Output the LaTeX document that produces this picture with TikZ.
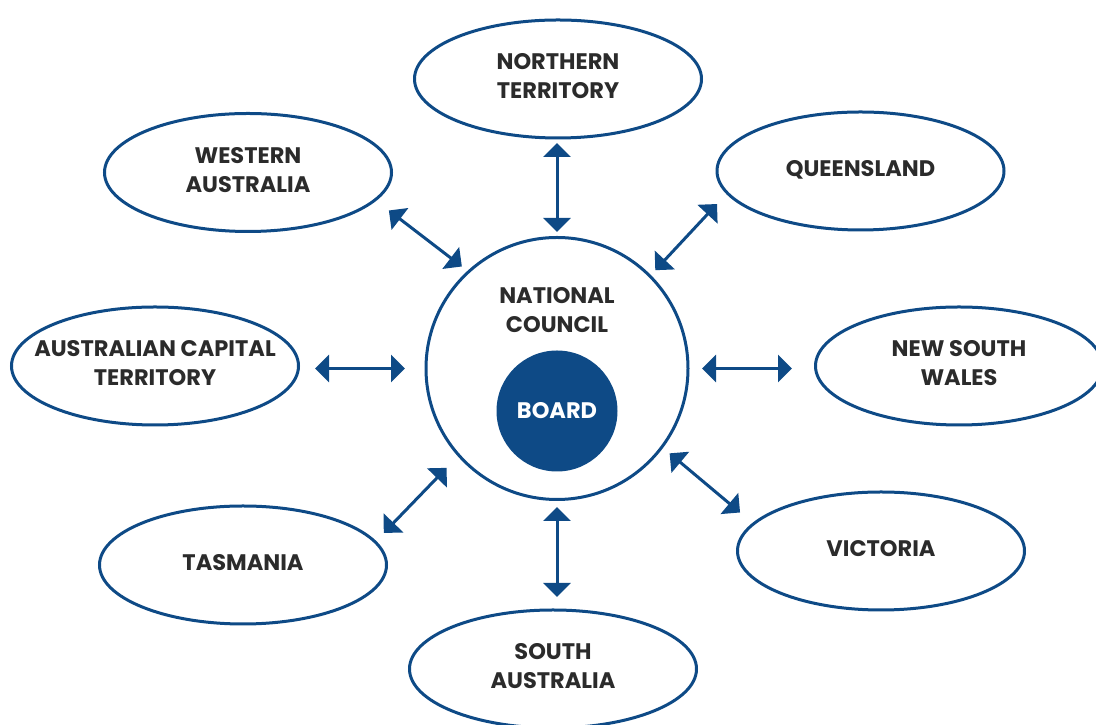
\documentclass[tikz,border=0pt]{standalone}
\usepackage{fontspec}
\setmainfont{Poppins}
\usetikzlibrary{arrows.meta, shapes.geometric, positioning}

\definecolor{ozblue}{RGB}{14,74,134}
\definecolor{ozgrey}{RGB}{43,43,43}
\newcommand\regionfont{\fontsize{22.5}{29}\selectfont\bfseries}

\tikzset{
    region/.style={ellipse, draw=ozblue, line width=3pt, minimum width=287pt, minimum height=118pt,
        inner xsep=-30pt, inner ysep=0pt, text depth=6pt, align=center, font=\regionfont, text=ozgrey},
    link/.style={{Triangle[length=14pt,width=27pt]}-{Triangle[length=14pt,width=27pt]}, line width=3pt, draw=ozblue}
}

\begin{document}
\begin{tikzpicture}[x=1pt, y=1pt]
        \useasboundingbox (0,0) rectangle (1096,725);

        \node[circle, draw=ozblue, line width=3pt, minimum size=262pt, inner sep=0pt] (council) at (557,356.5) {};
        \node[align=center, font=\regionfont, text=ozgrey] (title) at (557,414.5) {NATIONAL\\COUNCIL};
        \node[circle, fill=ozblue, minimum size=121pt, inner sep=0pt, font=\regionfont, text=white] (board) at (557,314) {BOARD};

        \node[region] (nt) at (558,646) {NORTHERN\\TERRITORY};
        \node[region] (qld) at (860.5,554) {QUEENSLAND};
        \node[region] (wa) at (248,552.5) {WESTERN\\AUSTRALIA};
        \node[region] (act) at (155,359) {AUSTRALIAN CAPITAL\\TERRITORY};
        \node[region] (nsw) at (959,359) {NEW SOUTH\\WALES};
        \node[region] (tas) at (243,160) {TASMANIA};
        \node[region] (vic) at (881,174) {VICTORIA};
        \node[region] (sa) at (553,56) {SOUTH\\AUSTRALIA};

        \draw[link] ([shift={(90:4)}]council.90) -- ++(90:89);
        \draw[link] ([shift={(270:6)}]council.270) -- ++(270:90);
        \draw[link] ([shift={(180:19.5)}]council.180) -- ++(180:90);
        \draw[link] ([shift={(0:12.5)}]council.0) -- ++(0:90);
        \draw[link] ([shift={(133:7)}]council.133) -- ++(142.5:92);
        \draw[link] ([shift={(45:6.5)}]council.45) -- ++(47:90.5);
        \draw[link] ([shift={(222:16)}]council.222) -- ++(226:90.5);
        \draw[link] ([shift={(-37:8.5)}]council.-37) -- ++(-40:92);
    \end{tikzpicture}
\end{document}
